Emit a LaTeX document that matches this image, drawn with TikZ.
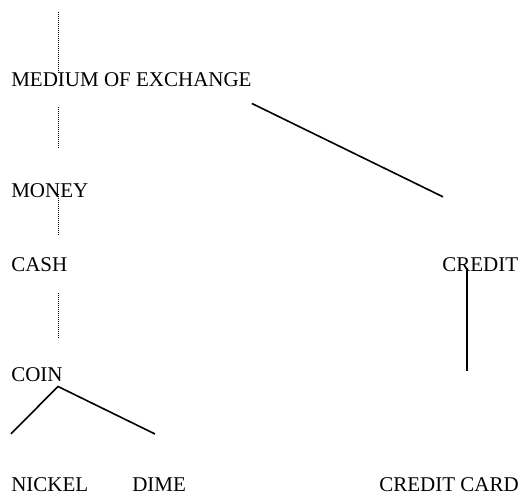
\documentclass[tikz,border=0pt]{standalone}
\usepackage{fontspec}
\setmainfont{Liberation Serif}
\usetikzlibrary{calc}

\begin{document}
\begin{tikzpicture}[x=0.75pt,y=-0.75pt,
  lbl/.style={anchor=base west,inner sep=0pt,font=\fontsize{15.75}{18}\selectfont},
  tie/.style={line width=1.2pt},
  dotline/.style={line width=0.75pt,dash pattern=on 0.75pt off 0.75pt}]
  \useasboundingbox (0,0) rectangle (520,495);

  % --- left column ---
  \node[lbl] (medium) at (11,87)  {MEDIUM OF EXCHANGE};
  \node[lbl] (money)  at (11,197) {MONEY};
  \node[lbl] (cash)   at (11,271) {CASH};
  \node[lbl] (coin)   at (11,381) {COIN};
  \node[lbl] (nickel) at (11,491) {NICKEL};
  \node[lbl] (dime)   at (132,491) {DIME};

  % --- right column ---
  \node[lbl] (credit) at (442,271) {CREDIT};
  \node[lbl] (card)   at (379,491) {CREDIT CARD};

  % --- dotted stem ---
  \coordinate (top) at (58,12);
  \draw[dotline] (top) -- (top |- medium.north);
  \draw[dotline,shorten <=15pt,shorten >=26.25pt] (top |- medium.south) -- (top |- money.north);
  \draw[dotline,shorten <=-2.25pt,shorten >=16.5pt] (top |- money.south) -- (top |- cash.north);
  \draw[dotline,shorten <=16.5pt,shorten >=21pt] (top |- cash.south) -- (top |- coin.north);

  % --- branches ---
  \draw[tie] ($(medium.south east)+(0,16)$) -- ($(credit.north west)+(1,-60)$);
  \draw[tie] ($(credit.south west)+(25,-3)$) -- ($(credit.south west)+(25,100)$);
  \draw[tie] ($(nickel.north west)+(0,-43)$) -- ($(coin.south west)+(47,5)$)
     -- ($(dime.north west)+(23,-43)$);
\end{tikzpicture}
\end{document}
